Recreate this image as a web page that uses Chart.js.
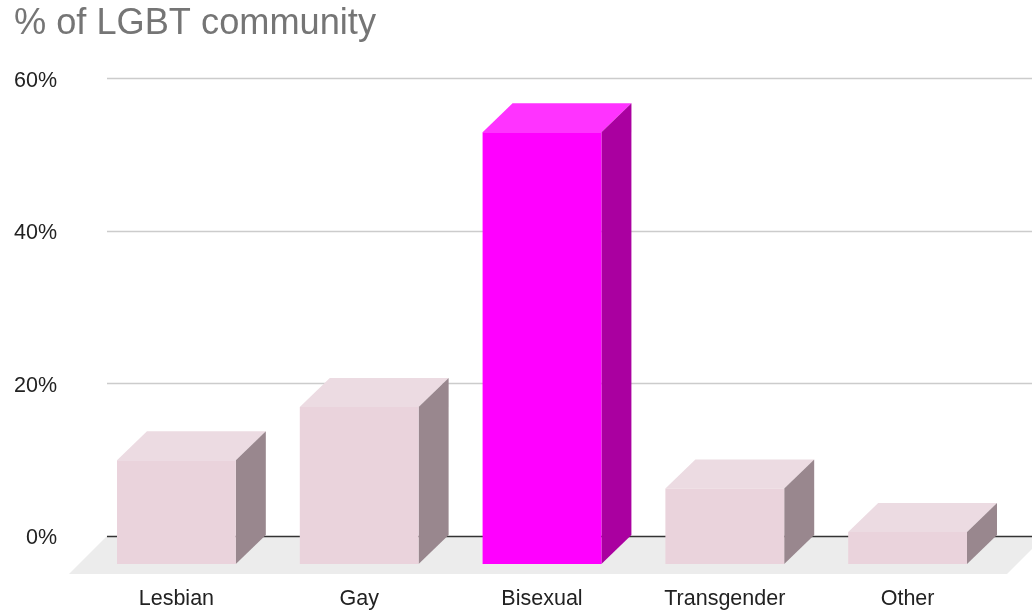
<!DOCTYPE html>
<html>
<head>
<meta charset="utf-8">
<title>% of LGBT community</title>
<script src="https://cdn.jsdelivr.net/npm/chart.js@4"></script>
<style>
  html, body { margin: 0; padding: 0; background: #fff; }
  #wrap { width: 1032px; height: 610px; }
</style>
</head>
<body>
<div id="wrap"><canvas id="lgbtChart"></canvas></div>
<script>
// Data
const categories = ['Lesbian', 'Gay', 'Bisexual', 'Transgender', 'Other'];
const shares = [13.6, 20.6, 56.6, 9.9, 4.2];
const yTicks = [0, 20, 40, 60];

const frontColors = ['#ead3dc', '#ead3dc', '#ff00ff', '#ead3dc', '#ead3dc'];
const topColors = ['#ecdbe2', '#ecdbe2', '#ff33ff', '#ecdbe2', '#ecdbe2'];
const sideColors = ['#99878e', '#99878e', '#aa00a0', '#99878e', '#99878e'];

// how far the back of each bar sits from its front face
const depthX = 30;
const depthY = 29;
const frontShift = 28;   // front faces pushed down by this much

// floor, grid and side/top faces of the fake 3D look
const box3d = {
    id: 'box3d',
    beforeDatasetsDraw(chart) {
        const ctx = chart.ctx;
        const y = chart.scales.y;
        const area = chart.chartArea;
        const zero = y.getPixelForValue(0);

        ctx.save();
        ctx.fillStyle = '#ececec';
        ctx.beginPath();
        ctx.moveTo(area.left + 22, zero);
        ctx.lineTo(area.right + 46, zero);
        ctx.lineTo(area.right + 8, zero + 38);
        ctx.lineTo(area.left - 16, zero + 38);
        ctx.closePath();
        ctx.fill();

        yTicks.forEach(function (t) {
            const py = Math.round(y.getPixelForValue(t)) + 0.5;
            ctx.strokeStyle = t === 0 ? '#333333' : '#cccccc';
            ctx.lineWidth = t === 0 ? 1.3 : 1.5;
            ctx.beginPath();
            ctx.moveTo(area.left + 22, py);
            ctx.lineTo(chart.width, py);
            ctx.stroke();
        });

        chart.getDatasetMeta(0).data.forEach(function (bar, i) {
            const half = bar.width / 2;
            const l = bar.x - half;
            const r = bar.x + half;
            const top = bar.y + frontShift;   // front top
            const base = zero + frontShift;   // front bottom

            ctx.fillStyle = topColors[i];
            ctx.beginPath();
            ctx.moveTo(l, top);
            ctx.lineTo(l + depthX, top - depthY);
            ctx.lineTo(r + depthX, top - depthY);
            ctx.lineTo(r, top);
            ctx.closePath();
            ctx.fill();

            ctx.fillStyle = sideColors[i];
            ctx.beginPath();
            ctx.moveTo(r, top);
            ctx.lineTo(r + depthX, top - depthY);
            ctx.lineTo(r + depthX, base - depthY);
            ctx.lineTo(r, base);
            ctx.closePath();
            ctx.fill();
        });
        ctx.restore();
    },
    beforeDatasetDraw(chart) {
        chart.ctx.save();
        chart.ctx.translate(0, frontShift);
    },
    afterDatasetDraw(chart) {
        chart.ctx.restore();
    }
};

const ctx = document.getElementById('lgbtChart').getContext('2d');
new Chart(ctx, {
    type: 'bar',
    data: {
        labels: categories,
        datasets: [{
            label: '% of LGBT community',
            data: shares,
            backgroundColor: frontColors,
            borderWidth: 0,
            barPercentage: 0.65,
            categoryPercentage: 1
        }]
    },
    options: {
        responsive: true,
        maintainAspectRatio: false,
        animation: false,
        layout: { padding: { left: 14, right: 33, top: 0, bottom: 0 } },
        plugins: {
            legend: { display: false },
            tooltip: { enabled: false },
            title: {
                display: true,
                text: '% of LGBT community',
                align: 'start',
                color: '#757575',
                font: { family: '"Liberation Sans", Arial, sans-serif', size: 36.2, weight: 'normal' },
                padding: { top: 2, bottom: 33 }
            }
        },
        scales: {
            y: {
                min: 0,
                max: 60,
                afterFit(scale) {
                    scale.width = 71;
                    // labels sit a little below their grid line in the original
                    if (!scale.drawLabelsBase) {
                        scale.drawLabelsBase = scale.drawLabels;
                        scale.drawLabels = function (area) {
                            scale.ctx.save();
                            scale.ctx.translate(0, 2.5);
                            scale.drawLabelsBase(area);
                            scale.ctx.restore();
                        };
                    }
                },
                ticks: {
                    stepSize: 20,
                    padding: 20,
                    color: '#222222',
                    font: { family: '"Liberation Sans", Arial, sans-serif', size: 21.5 },
                    callback: function (v) { return v + '%'; }
                },
                grid: { display: false },
                border: { display: false }
            },
            x: {
                afterFit(scale) { scale.height = 74; },
                ticks: {
                    padding: 42,
                    color: '#222222',
                    maxRotation: 0,
                    font: { family: '"Liberation Sans", Arial, sans-serif', size: 21.5 }
                },
                grid: { display: false },
                border: { display: false }
            }
        }
    },
    plugins: [box3d]
});
</script>
</body>
</html>
